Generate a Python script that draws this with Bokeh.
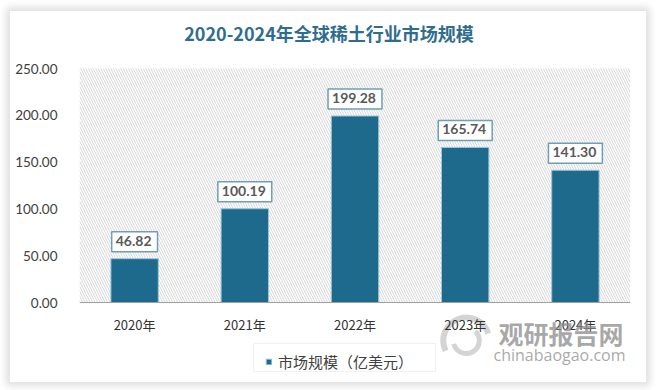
from bokeh.plotting import figure
from bokeh.models import (ColumnDataSource, Label, Legend, LegendItem,
                          BoxAnnotation, NumeralTickFormatter, FixedTicker, Range1d)
from bokeh.embed import file_html
from bokeh.resources import INLINE

# ---- data ----
years = ["2020年", "2021年", "2022年", "2023年", "2024年"]
market_size = [46.82, 100.19, 199.28, 165.74, 141.30]
y_ticks = [0, 50, 100, 150, 200, 250]
title_text = "2020-2024年全球稀土行业市场规模"
series_name = "市场规模（亿美元）"

BAR = "#1d6a8c"
src = ColumnDataSource(dict(year=years, value=market_size))

# frame spans the whole card height so title / legend / watermark live inside it
p = figure(x_range=years, y_range=Range1d(-83.3, 308.76), width=636, height=371,
           output_backend="svg", toolbar_location=None,
           min_border_left=69, min_border_right=16, min_border_top=2, min_border_bottom=2)
p.margin = (11, 0, 0, 10)
p.styles = {"box-shadow": "0 0 7px 4px #e0e0e0"}
p.outline_line_color = None
p.xgrid.grid_line_color = None
p.ygrid.grid_line_color = None
p.background_fill_color = "white"

# hatched plot background (value area only)
p.add_layout(BoxAnnotation(bottom=0, top=250, fill_color="white", fill_alpha=1, line_color=None,
                           hatch_pattern="left_diagonal_line", hatch_color="#d6d6d6",
                           hatch_scale=5, hatch_weight=1, level="underlay"))

r = p.vbar(x="year", top="value", width=0.43, source=src, fill_color=BAR,
           line_color="#9cc5d9", line_width=1)

# value boxes (categorical centre of i-th factor is i + 0.5 in synthetic coords)
for i, v in enumerate(market_size):
    p.add_layout(Label(x=i + 0.5, y=v, text=f"{v:.2f}",
                       text_align="center", text_baseline="middle", y_offset=17,
                       text_font="Lato", text_font_style="bold", text_font_size="14px",
                       text_color="#595959", background_fill_color="white",
                       border_line_color="#6e9fb6", border_line_width=1.5,
                       padding=(4, 6, 4, 6)))

# axes
p.yaxis.ticker = FixedTicker(ticks=y_ticks)
p.yaxis.formatter = NumeralTickFormatter(format="0.00")
p.yaxis.axis_line_color = None
p.yaxis.major_tick_line_color = None
p.yaxis.minor_tick_line_color = None
p.yaxis.major_label_standoff = 16
p.yaxis.major_label_text_font = "Lato"
p.yaxis.major_label_text_font_size = "13.5px"
p.yaxis.major_label_text_color = "#404040"

p.xaxis.fixed_location = 0
p.xaxis.axis_line_color = "#a0a0a0"
p.xaxis.axis_line_width = 1.2
p.xaxis.major_tick_line_color = None
p.xaxis.minor_tick_line_color = None
p.xaxis.major_label_standoff = 6
p.xaxis.major_label_text_font = "Noto Sans CJK SC"
p.xaxis.major_label_text_font_size = "13px"
p.xaxis.major_label_text_color = "#333333"

# title
p.add_layout(Label(x=249.5, y=348, x_units="screen", y_units="screen", text=title_text,
                   text_align="center", text_baseline="middle",
                   text_font="Noto Sans CJK SC", text_font_style="bold",
                   text_font_size="18px", text_color="#2f6d8e"))

# watermark
p.add_layout(Label(x=419, y=48, x_units="screen", y_units="screen", text="观研报告网",
                   text_align="left", text_baseline="middle", text_font="Noto Sans CJK SC",
                   text_font_style="bold", text_font_size="25px", text_color="#8c8c8c",
                   text_alpha=0.75))
p.add_layout(Label(x=414, y=26, x_units="screen", y_units="screen", text="chinabaogao.com",
                   text_align="left", text_baseline="middle", text_font="Open Sans",
                   text_font_size="16px", text_color="#8c8c8c", text_alpha=0.75))
p.arc(x=[3.51], y=[-40.6], radius=23, radius_units="screen", start_angle=0.3, end_angle=3.6,
      line_color="#c9c9c9", line_width=6, line_alpha=0.8)
p.arc(x=[3.51], y=[-40.6], radius=13, radius_units="screen", start_angle=3.4, end_angle=0.8,
      line_color="#c9c9c9", line_width=5, line_alpha=0.8)

# legend box + legend
p.add_layout(BoxAnnotation(left=174, right=356, bottom=9, top=37,
                           left_units="screen", right_units="screen",
                           bottom_units="screen", top_units="screen",
                           fill_color="white", fill_alpha=1,
                           line_color="#d0d0d0", line_width=1))
legend = Legend(items=[LegendItem(label=series_name, renderers=[r])],
                location=(186, 8), margin=0, padding=6,
                border_line_color=None, background_fill_alpha=0,
                label_text_font="Noto Sans CJK SC", label_text_font_size="15px",
                label_text_color="#404040", glyph_width=7, glyph_height=7,
                label_standoff=6)
p.add_layout(legend, "center")

open("out.html", "w").write(file_html(p, INLINE))
